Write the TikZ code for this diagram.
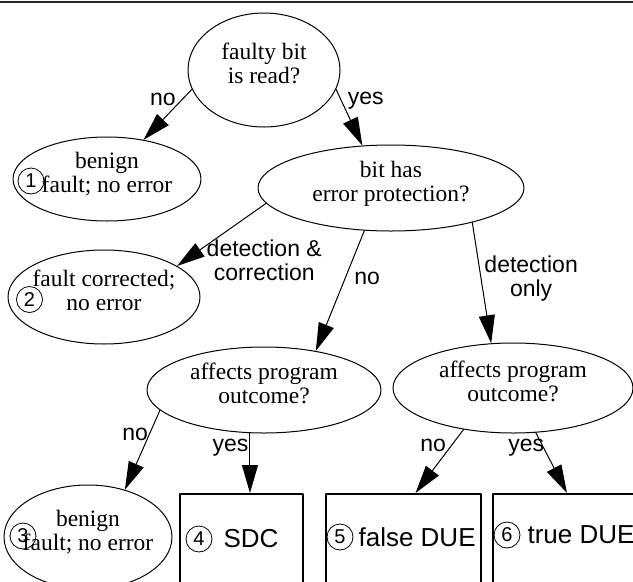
\documentclass[tikz,border=0pt]{standalone}
\usepackage{fontspec}
\setmainfont{Liberation Serif}
\setsansfont{Liberation Sans}
\usetikzlibrary{shapes.geometric,arrows.meta,positioning}

\begin{document}
\begin{tikzpicture}[x=1pt,y=-1pt,line cap=round,line join=round,
  >={Triangle[length=28pt,width=16pt]},
  q/.style={ellipse,draw,line width=1pt,inner sep=0pt,align=center,text depth=14pt,
    font=\fontsize{23.5}{24}\selectfont},
  outbox/.style={rectangle,draw,line width=2pt,anchor=north,minimum height=120pt},
  num/.style={circle,draw,line width=0.8pt,inner sep=0pt,minimum size=26pt,
    font=\sffamily\fontsize{20}{20}\selectfont},
  res/.style={inner sep=1pt,font=\sffamily\fontsize{26}{28}\selectfont},
  lbl/.style={inner sep=1pt,align=center,font=\sffamily\fontsize{23}{24}\selectfont},
  arr/.style={->,line width=1pt}]
\useasboundingbox (0,0) rectangle (633,582);
\clip (0,0) rectangle (633,582);
\draw[line width=2.5pt,line cap=butt,black!85] (0,2) -- (633,2);
% questions and outcomes
\node[q,minimum width=152pt,minimum height=114pt] (read) at (264,70) {faulty bit\\is read?};
\node[q,minimum width=188pt,minimum height=84pt] (benA) at (107,179) {benign\\fault; no error};
\node[q,minimum width=266pt,minimum height=86pt] (prot) at (391,188) {bit has\\error protection?};
\node[q,inner sep=-4pt,minimum width=192pt,minimum height=94pt] (corr) at (104,297) {fault corrected;\\no error};
\node[q,minimum width=234pt,minimum height=86pt] (affA) at (264,390) {affects program\\outcome?};
\node[q,minimum width=240pt,minimum height=90pt] (affB) at (513,388) {affects program\\outcome?};
\node[q,inner sep=-7pt,minimum width=168pt,minimum height=104pt] (benB) at (88,537) {benign\\fault; no error};
\node[outbox,minimum width=123pt] (sdc) at (241.5,493) {};
\node[outbox,minimum width=155pt] (fdue) at (403.5,493) {};
\node[outbox,minimum width=148pt] (tdue) at (567,493) {};
% numbered cases
\node[num] (n1) at (31,181) {1};
\node[num] (n2) at (29.5,299.5) {2};
\node[num] (n3) at (23,536) {3};
\node[num] (n4) at (199,539) {4};
\node[num] (n5) at (340,537) {5};
\node[num] (n6) at (507,535) {6};
\node[res,right=10pt of n4] (sdct) {SDC};
\node[res,right=4pt of n5] (fduet) {false DUE};
\node[res,right=6pt of n6] (tduet) {true DUE};
% decisions
\draw[arr] (read.195) -- (benA.47) node[lbl,pos=0.2,left=5pt] {no};
\draw[arr] (read.345) -- (prot.124) node[lbl,pos=0.2,right=5pt] {yes};
\draw[arr] (prot.187) -- (corr.23) node[lbl,pos=0.56,anchor=north west,xshift=-11pt] {detection \&\\correction};
\draw[arr] (prot.238) -- (affA.37) node[lbl,pos=0.4,right=8pt] {no};
\draw[arr] (prot.337) -- (affB.116) node[lbl,pos=0.46,right=2pt] {detection\\only};
\draw[arr] (affA.191) -- (benB.52) node[lbl,pos=0.3,left=0pt] {no};
\draw[arr] (affA.252) -- (affA.252 |- sdc.north) node[lbl,pos=0.25,left=0pt] {yes};
\draw[arr] (affB.220) -- ([xshift=12pt]fdue.north) node[lbl,pos=0.25,left=4pt] {no};
\draw[arr] (affB.297) -- (tdue.north) node[lbl,pos=0.25,anchor=east,xshift=2pt] {yes};
\end{tikzpicture}
\end{document}
